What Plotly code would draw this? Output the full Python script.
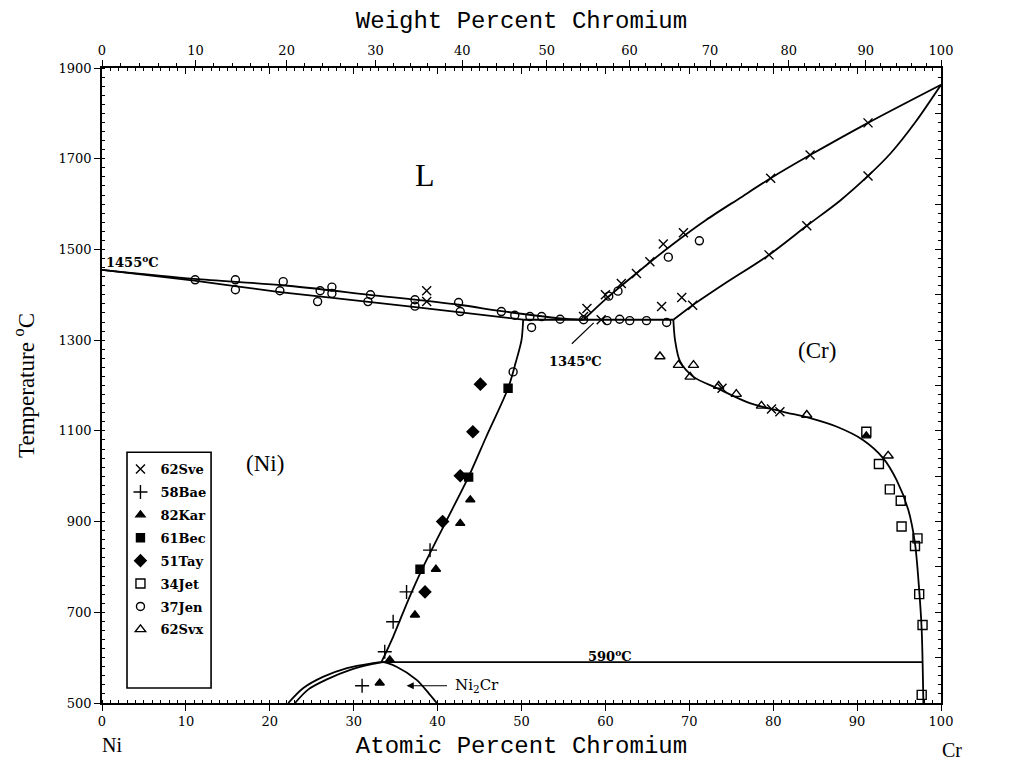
import plotly.graph_objects as go

# ---------------- data (atomic % Cr, temperature in deg C) ----------------
# phase boundaries
liq_ni_x = [0, 11.0, 21.6, 31.9, 42.5, 47.6, 54.6, 57.4]
liq_ni_T = [1455, 1435, 1421, 1400, 1378, 1364, 1348, 1345]
sol_ni_x = [0, 11.0, 21.2, 31.5, 42.5, 50.2]
sol_ni_T = [1455, 1431, 1406, 1385, 1362, 1345]
liq_cr_x = [57.4, 60.0, 64.0, 68.0, 72.0, 76.0, 79.7, 84.4, 91.3, 100]
liq_cr_T = [1345, 1390, 1452, 1511, 1565, 1613, 1657, 1708, 1779, 1863]
sol_cr_x = [68.1, 70.4, 74.0, 79.5, 84.0, 88.0, 91.3, 94.0, 97.0, 100]
sol_cr_T = [1345, 1377, 1422, 1488, 1552, 1608, 1662, 1712, 1782, 1863]
eut_x = [50.2, 68.1]
eut_T = [1345, 1345]
solv_ni_x = [50.2, 50.0, 49.3, 48.4, 45.8, 43.7, 41.0, 38.1, 36.5, 34.7, 33.3]
solv_ni_T = [1345, 1300, 1250, 1194, 1087, 999, 900, 793, 727, 646, 590]
solv_cr_x = [68.1, 68.3, 68.9, 70.5, 73.3, 77.2, 81.2, 84.4, 87.6, 90.7, 93.1, 94.7, 96.1, 96.9, 97.4, 97.7, 97.9]
solv_cr_T = [1345, 1300, 1253, 1219, 1194, 1161, 1142, 1128, 1109, 1080, 1040, 992, 926, 852, 749, 661, 500]
line590_x = [33.3, 97.8]
line590_T = [590, 590]
dome_out_x = [22.2, 24.0, 26.4, 29.2, 32.0, 33.5, 35.1, 37.5, 39.1, 39.9]
dome_out_T = [500, 533, 558, 577, 587, 590, 580, 551, 518, 500]
dome_in_x = [23.0, 24.6, 26.8, 29.6, 32.3, 33.5]
dome_in_T = [500, 530, 552, 573, 586, 590]

# experimental points
sve_x = [38.7, 38.7, 57.8, 57.4, 59.5, 60.0, 61.9, 63.7, 65.3, 66.9, 69.3, 79.7, 84.4, 91.3,
         66.7, 69.1, 70.4, 79.5, 84.0, 91.3, 73.9, 79.8, 80.8]
sve_T = [1409, 1385, 1370, 1352, 1345, 1400, 1425, 1447, 1473, 1512, 1537, 1657, 1708, 1779,
         1374, 1394, 1377, 1488, 1552, 1662, 1194, 1148, 1142]
bae_x = [39.1, 36.3, 34.7, 33.7, 31.0]
bae_T = [837, 745, 679, 613, 538]
kar_x = [43.9, 42.7, 39.8, 37.3, 34.3, 33.1, 91.1]
kar_T = [948, 896, 795, 694, 595, 544, 1089]
bec_x = [48.4, 43.7, 37.9]
bec_T = [1194, 998, 795]
tay_x = [45.1, 44.2, 42.7, 40.6, 38.5]
tay_T = [1203, 1098, 1001, 900, 745]
jet_x = [91.1, 92.6, 93.9, 95.2, 95.3, 97.2, 96.9, 97.4, 97.8, 97.7]
jet_T = [1098, 1027, 971, 946, 889, 863, 846, 740, 672, 518]
jen_x = [11.1, 15.9, 15.9, 21.6, 21.2, 26.0, 25.7, 27.4, 27.4, 32.0, 31.7, 37.3, 37.3, 42.5,
         42.7, 47.6, 49.2, 51.0, 51.2, 52.4, 54.6, 57.4, 60.2, 61.7, 62.9, 64.9, 67.3, 49.0,
         60.4, 61.5, 67.5, 71.2]
jen_T = [1433, 1433, 1411, 1429, 1409, 1409, 1385, 1417, 1403, 1400, 1385, 1389, 1375, 1383,
         1363, 1363, 1355, 1352, 1328, 1352, 1346, 1345, 1343, 1346, 1343, 1343, 1339, 1230,
         1397, 1408, 1483, 1519]
svx_x = [66.5, 68.7, 70.5, 70.1, 73.5, 75.6, 78.6, 84.0, 93.7]
svx_T = [1264, 1245, 1245, 1219, 1199, 1181, 1155, 1135, 1045]

# axis ticks
at_ticks = list(range(0, 101, 10))
wt_ticks = list(range(0, 101, 10))
wt_minor = list(range(0, 101, 2))
T_ticks = list(range(500, 1901, 200))


def wt_to_at(w):
    a = w / 52.00
    b = (100 - w) / 58.69
    return 100 * a / (a + b)


SERIF = "DejaVu Serif"
fig = go.Figure()

line_style = dict(color="black", width=1.8)
for xs, ts in [(liq_ni_x, liq_ni_T), (sol_ni_x, sol_ni_T), (liq_cr_x, liq_cr_T),
               (sol_cr_x, sol_cr_T), (eut_x, eut_T), (solv_ni_x, solv_ni_T),
               (solv_cr_x, solv_cr_T), (line590_x, line590_T), (dome_out_x, dome_out_T),
               (dome_in_x, dome_in_T)]:
    fig.add_trace(go.Scatter(x=xs, y=ts, mode="lines", line=dict(shape="spline", smoothing=0.8, **line_style),
                             showlegend=False, hoverinfo="skip"))

series = [
    ("62Sve", sve_x, sve_T, "x-thin-open", 9),
    ("58Bae", bae_x, bae_T, "cross-thin-open", 10),
    ("82Kar", kar_x, kar_T, "triangle-up", 8),
    ("61Bec", bec_x, bec_T, "square", 8),
    ("51Tay", tay_x, tay_T, "diamond", 9),
    ("34Jet", jet_x, jet_T, "square-open", 9),
    ("37Jen", jen_x, jen_T, "circle-open", 8),
    ("62Svx", svx_x, svx_T, "triangle-up-open", 9),
]
for name, xs, ts, sym, size in series:
    fig.add_trace(go.Scatter(x=xs, y=ts, mode="markers", name=name, legendgroup=name,
                             marker=dict(symbol=sym, size=size, color="black",
                                         line=dict(color="black", width=1.4))))

ann_font = dict(family=SERIF, size=13, color="black")
annotations = [
    dict(x=38.5, y=1664, text="L", font=dict(family="Liberation Serif", size=32, color="black")),
    dict(x=19.4, y=1029, text="(Ni)", font=dict(family="Liberation Serif", size=23, color="black")),
    dict(x=85.2, y=1278, text="(Cr)", font=dict(family="Liberation Serif", size=23, color="black")),
    dict(x=0.2, y=1474, text="<b>1455<sup>o</sup>C</b>", xanchor="left", font=ann_font),
    dict(x=100.6, y=1866, text="<b>1863<sup>o</sup>C</b>", xanchor="left", font=ann_font),
    dict(x=56.4, y=1256, text="<b>1345<sup>o</sup>C</b>", font=ann_font),
    dict(x=60.5, y=604, text="<b>590<sup>o</sup>C</b>", font=ann_font),
    dict(x=41.8, y=538, text="Ni<sub>2</sub>Cr", xanchor="left", font=dict(family=SERIF, size=15, color="black")),
    dict(x=36.3, y=538, ax=41.3, ay=538, axref="x", ayref="y", text="", showarrow=True,
         arrowhead=2, arrowsize=1.2, arrowwidth=1.2, arrowcolor="black"),
    dict(x=0.012, y=-0.066, xref="paper", yref="paper", text="Ni",
         font=dict(family="Liberation Serif", size=20, color="black")),
    dict(x=1.013, y=-0.074, xref="paper", yref="paper", text="Cr",
         font=dict(family="Liberation Serif", size=20, color="black")),
]
for a in annotations:
    a.setdefault("showarrow", False)
    a.setdefault("xref", "x")
    a.setdefault("yref", "y")
    a.setdefault("xanchor", "center")
    a.setdefault("yanchor", "middle")
fig.update_layout(annotations=annotations)

# leader line for the eutectic label and legend box
fig.add_shape(type="line", x0=56.0, y0=1292, x1=58.6, y1=1338, xref="x", yref="y",
              line=dict(color="black", width=1.2))
fig.add_shape(type="rect", xref="paper", yref="paper", x0=0.0298, x1=0.130, y0=0.0236, y1=0.395,
              line=dict(color="black", width=1.6))

tickfont = dict(family=SERIF, size=13, color="black")
title_font = dict(family="Liberation Mono", size=24, color="black")
fig.update_layout(
    width=1011, height=760,
    margin=dict(l=102, r=70, t=68, b=57, autoexpand=False),
    paper_bgcolor="white", plot_bgcolor="white",
    showlegend=True,
    legend=dict(x=0.022, y=0.392, xanchor="left", yanchor="top", bgcolor="rgba(0,0,0,0)",
                font=dict(family="DejaVu Serif", size=13, color="black", weight="bold"),
                itemwidth=30, tracegroupgap=3),
    xaxis=dict(range=[0, 100], tickvals=at_ticks, ticks="outside", ticklen=6, tickwidth=1.2,
               tickcolor="black", showline=True, linecolor="black", linewidth=1.5,
               showgrid=False, zeroline=False, tickfont=tickfont, automargin=False,
               minor=dict(dtick=1, ticks="inside", ticklen=3, tickcolor="black", tickwidth=1),
               title=dict(text="Atomic Percent Chromium", standoff=10, font=title_font)),
    xaxis2=dict(range=[0, 100], overlaying="x", side="top", anchor="y", automargin=False,
                tickvals=[wt_to_at(w) for w in wt_ticks], ticktext=[str(w) for w in wt_ticks],
                ticks="outside", ticklen=6, tickwidth=1.2, tickcolor="black",
                minor=dict(tickvals=[wt_to_at(w) for w in wt_minor], ticks="outside", ticklen=3,
                           tickcolor="black", tickwidth=1),
                showline=True, linecolor="black", linewidth=1.5, showgrid=False, zeroline=False,
                tickfont=tickfont,
                title=dict(text="Weight Percent Chromium", standoff=8, font=title_font)),
    xaxis3=dict(range=[0, 100], overlaying="x", side="top", anchor="y", showticklabels=False,
                tickvals=at_ticks, ticks="inside", ticklen=6, tickcolor="black", tickwidth=1.2,
                minor=dict(dtick=1, ticks="inside", ticklen=3, tickcolor="black", tickwidth=1),
                showline=False, showgrid=False, zeroline=False, automargin=False),
    yaxis=dict(range=[500, 1900], tickvals=T_ticks, ticks="outside", ticklen=6, tickwidth=1.2,
               tickcolor="black", showline=True, linecolor="black", linewidth=1.5,
               showgrid=False, zeroline=False, tickfont=tickfont, automargin=False,
               minor=dict(dtick=20, ticks="inside", ticklen=3, tickcolor="black", tickwidth=1),
               title=dict(text="Temperature <sup>o</sup>C", standoff=18,
                          font=dict(family="Liberation Serif", size=23, color="black"))),
    yaxis2=dict(range=[500, 1900], overlaying="y", side="right", anchor="x", showticklabels=False,
                dtick=100, ticks="inside", ticklen=6, tickcolor="black", tickwidth=1.2,
                minor=dict(dtick=20, ticks="inside", ticklen=3, tickcolor="black", tickwidth=1),
                showline=True, linecolor="black", linewidth=1.5, showgrid=False, zeroline=False,
                automargin=False),
)
# invisible placeholder traces so the overlay axes render
fig.add_trace(go.Scatter(x=[None], y=[None], xaxis="x2", yaxis="y", showlegend=False))
fig.add_trace(go.Scatter(x=[None], y=[None], xaxis="x3", yaxis="y", showlegend=False))
fig.add_trace(go.Scatter(x=[None], y=[None], xaxis="x", yaxis="y2", showlegend=False))

fig.write_html("out.html", config={"displayModeBar": False})

# remove the default page margin so the figure sits at the window's top-left corner
with open("out.html", encoding="utf-8") as f:
    html = f.read()
html = html.replace("<head>", "<head><style>html,body{margin:0;padding:0;overflow:hidden;}</style>", 1)
with open("out.html", "w", encoding="utf-8") as f:
    f.write(html)
